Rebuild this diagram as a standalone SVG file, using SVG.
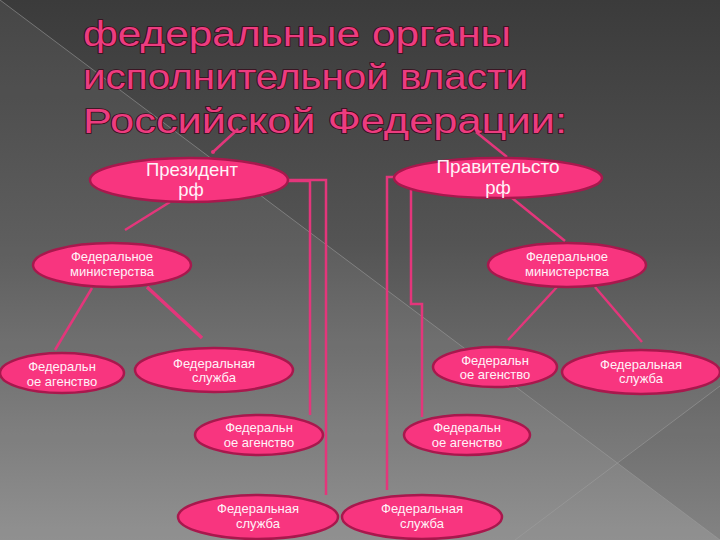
<svg xmlns="http://www.w3.org/2000/svg" width="720" height="540" viewBox="0 0 720 540">
<defs>
<linearGradient id="bg" x1="0" y1="0" x2="0" y2="1">
<stop offset="0" stop-color="#3b3b3b"/>
<stop offset="0.45" stop-color="#545454"/>
<stop offset="1" stop-color="#8a8a8a"/>
</linearGradient>
<style>
.title{font-family:"Liberation Sans",Arial,sans-serif;font-size:35px;fill:#ec3c7f;stroke:#3a0a1c;stroke-width:1.6px;paint-order:stroke;}
.n ellipse{fill:#f8357f;stroke:#a8184d;stroke-width:2.5px;}
.n text{font-family:"Liberation Sans",Arial,sans-serif;fill:#fff2f8;text-anchor:middle;font-size:13px;}
.n text.big{font-size:18.5px;}
.c line,.c polyline{stroke:#e3367b;stroke-width:2.5px;fill:none;}
.xl{stroke:#a0a0a0;stroke-width:1;opacity:0.55;}
</style>
</defs>
<rect width="720" height="540" fill="url(#bg)"/>
<polygon points="0,0 720,540 0,540" fill="#ffffff" opacity="0.06"/>
<polygon points="720,386 617,463 720,540" fill="#000000" opacity="0.05"/>
<line class="xl" x1="0" y1="0" x2="720" y2="540"/>
<line class="xl" x1="720" y1="386" x2="515" y2="540"/>

<g id="title">
<text class="title" x="83" y="46" textLength="428" lengthAdjust="spacingAndGlyphs">федеральные органы</text>
<text class="title" x="83" y="89" textLength="445" lengthAdjust="spacingAndGlyphs">исполнительной власти</text>
<text class="title" x="83" y="133" textLength="484" lengthAdjust="spacingAndGlyphs">Российской Федерации:</text>
</g>

<g id="connectors" class="c">
<line x1="238" y1="129" x2="213" y2="152"/>
<circle cx="213" cy="152" r="2" fill="#e3367b"/>
<line x1="476" y1="132" x2="507" y2="157"/>
<line x1="170" y1="202" x2="125" y2="230"/>
<line x1="512" y1="198" x2="565" y2="241"/>
<line x1="92" y1="288" x2="55" y2="350"/>
<line x1="147" y1="287" x2="202" y2="338" style="stroke-width:3.5px"/>
<line x1="557" y1="287" x2="508" y2="340"/>
<line x1="595" y1="287" x2="642" y2="342"/>
<polyline points="287,180 326,180 326,495"/>
<polyline points="287,181 310,181 310,415"/>
<polyline points="395,177 387,177 387,490"/>
<polyline points="411,190 411,304 422,304 422,417"/>
</g>

<g id="president" class="n">
<ellipse cx="189" cy="180" rx="99" ry="22"/>
<text class="big" x="192" y="176">Президент</text>
<text class="big" x="191" y="196">рф</text>
</g>
<g id="government" class="n">
<ellipse cx="498" cy="178" rx="104" ry="20"/>
<text class="big" x="498" y="173" textLength="123" lengthAdjust="spacingAndGlyphs">Правительсто</text>
<text class="big" x="498" y="194">рф</text>
</g>
<g id="ministry-left" class="n">
<ellipse cx="112" cy="265" rx="79" ry="22"/>
<text x="112" y="261">Федеральное</text>
<text x="112" y="276">министерства</text>
</g>
<g id="ministry-right" class="n">
<ellipse cx="567" cy="265" rx="79" ry="22"/>
<text x="567" y="261">Федеральное</text>
<text x="567" y="276">министерства</text>
</g>
<g id="agency-left" class="n">
<ellipse cx="62" cy="373" rx="62" ry="20"/>
<text x="62" y="371">Федеральн</text>
<text x="62" y="386">ое агенство</text>
</g>
<g id="service-left" class="n">
<ellipse cx="214" cy="370" rx="79" ry="22"/>
<text x="214" y="368">Федеральная</text>
<text x="214" y="382">служба</text>
</g>
<g id="agency-right" class="n">
<ellipse cx="495" cy="367" rx="62" ry="20"/>
<text x="495" y="365">Федеральн</text>
<text x="495" y="379">ое агенство</text>
</g>
<g id="service-right" class="n">
<ellipse cx="641" cy="372" rx="79" ry="22"/>
<text x="641" y="369">Федеральная</text>
<text x="641" y="383">служба</text>
</g>
<g id="agency-mid-left" class="n">
<ellipse cx="259" cy="435" rx="64" ry="20"/>
<text x="259" y="432">Федеральн</text>
<text x="259" y="447">ое агенство</text>
</g>
<g id="agency-mid-right" class="n">
<ellipse cx="467" cy="435" rx="63" ry="20"/>
<text x="467" y="432">Федеральн</text>
<text x="467" y="447">ое агенство</text>
</g>
<g id="service-bottom-left" class="n">
<ellipse cx="258" cy="517" rx="80" ry="22"/>
<text x="258" y="513">Федеральная</text>
<text x="258" y="528">служба</text>
</g>
<g id="service-bottom-right" class="n">
<ellipse cx="422" cy="517" rx="80" ry="22"/>
<text x="422" y="513">Федеральная</text>
<text x="422" y="528">служба</text>
</g>
</svg>
